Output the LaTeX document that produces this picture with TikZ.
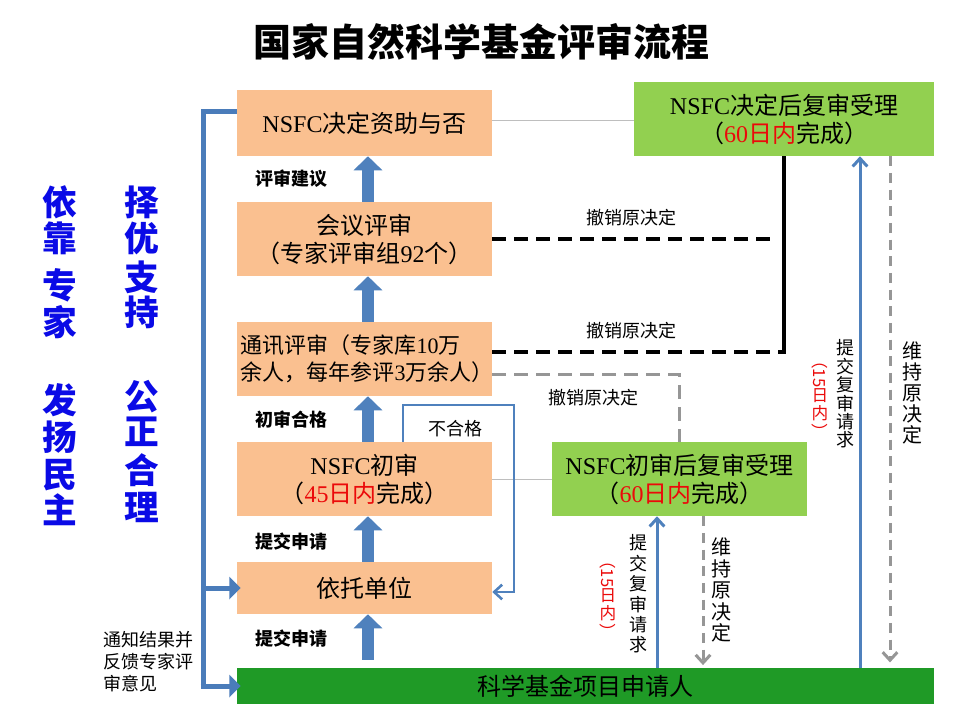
\documentclass[tikz,border=0pt]{standalone}
\usepackage{fontspec}
\setmainfont{Liberation Serif}
\newfontfamily\cjk{Noto Sans CJK SC}
\usetikzlibrary{arrows.meta}
\definecolor{peach}{RGB}{250,192,144}
\definecolor{lgreen}{RGB}{146,208,80}
\definecolor{dgreen}{RGB}{31,154,38}
\definecolor{arrblue}{RGB}{79,129,189}
\definecolor{brkblue}{RGB}{74,124,186}
\definecolor{nred}{RGB}{235,10,10}
\definecolor{bigblue}{RGB}{10,10,230}
\definecolor{lgray}{RGB}{190,190,190}
\definecolor{dgray}{RGB}{150,150,150}
\newcommand\lat[1]{{\rmfamily #1}}
\newcommand\redstack{\rotatebox[origin=c]{-90}{（15}\\日\\内\\\rotatebox[origin=c]{-90}{）}}
\begin{document}
\begin{tikzpicture}[x=0.75pt,y=-0.75pt,
  box/.style={fill=peach, minimum width=191.25pt, minimum height=55.5pt, inner sep=0pt, align=center, font=\cjk\fontsize{18pt}{21pt}\selectfont},
  gbox/.style={box, fill=lgreen},
  barbox/.style={box, fill=dgreen, minimum width=522.75pt, minimum height=27pt},
  lblb/.style={font=\cjk\bfseries\fontsize{13.5pt}{16pt}\selectfont, inner sep=0pt},
  lbl/.style={font=\cjk\fontsize{13.5pt}{16pt}\selectfont, inner sep=0pt},
  vlab/.style={font=\cjk\fontsize{13.5pt}{15.3pt}\selectfont, align=center, inner sep=0pt},
  rlab/.style={font=\cjk\fontsize{12.5pt}{13.5pt}\selectfont, text=nred, align=center, inner sep=0pt},
  bigc/.style={font=\cjk\bfseries\fontsize{26pt}{28pt}\selectfont, text=bigblue, inner sep=0pt},
  blockarr/.style={draw=arrblue, line width=9pt, -{Triangle[width=21pt,length=10.5pt]}},
  brk/.style={draw=brkblue, line width=3.75pt},
  brkarr/.style={brk, -{Triangle[width=16.5pt,length=8.5pt]}},
  thinl/.style={draw=lgray, line width=0.75pt},
  blk/.style={draw=black, line width=2.5pt},
  blkdash/.style={draw=black, line width=2.5pt, dash pattern=on 10pt off 6.5pt},
  gdash/.style={draw=dgray, line width=2.25pt, dash pattern=on 10pt off 6.5pt},
  gdarr/.style={draw=dgray, line width=2.25pt, dash pattern=on 7.5pt off 5pt, -{Straight Barb[length=6pt,width=11pt]}},
  blueup/.style={draw=arrblue, line width=2.25pt, -{Straight Barb[length=6pt,width=11pt]}},
  backl/.style={draw=arrblue, line width=1.9pt, -{Straight Barb[length=6pt,width=11pt]}}
]
\useasboundingbox[fill=white] (0,0) rectangle (960,720);

% title
\node[font=\cjk\bfseries\fontsize{28.5pt}{32pt}\selectfont, inner sep=0pt] (title) at (481,42) {国家自然科学基金评审流程};

% left columns
\foreach \c/\y [count=\i] in {依/202,靠/238,专/285,家/322,发/400,扬/437,民/475,主/510}
  \node[bigc] (la\i) at (60,\y) {\c};
\foreach \c/\y [count=\i] in {择/202,优/238,支/277,持/312,公/397,正/432,合/470,理/507}
  \node[bigc] (lb\i) at (142,\y) {\c};

% coordinates
\coordinate (lt) at (203,112);
\coordinate (lb) at (203,686);
\coordinate (bk) at (784,352);
\coordinate (bk2) at (775,239);
\coordinate (gd) at (679,374);
\coordinate (l1) at (403,405);
\coordinate (l2) at (514,405);
\coordinate (l3) at (514,592);
\coordinate (ma) at (657,0);
\coordinate (ra) at (860,0);
\coordinate (gm) at (703,0);
\coordinate (gr) at (890,0);

% boxes
\node[box, minimum height=49.5pt] (b1) at (364.5,123) {\lat{NSFC}决定资助与否};
\node[box] (b2) at (364.5,239) {会议评审\\（专家评审组\lat{92}个）};
\node[box] (b3) at (364.5,359) {};
\node[align=left, inner sep=0pt, font=\cjk\fontsize{16.5pt}{20.25pt}\selectfont] (b3t) at ([xshift=2pt]b3.center) {通讯评审（专家库\lat{10}万\\余人，每年参评\lat{3}万余人）};
\node[box] (b4) at (364.5,479) {\lat{NSFC}初审\\（\textcolor{nred}{\lat{45}日内}完成）};
\node[box, minimum height=39pt] (b5) at (364.5,588) {依托单位};
\node[barbox] (bar) at (585.5,686) {科学基金项目申请人};
\node[gbox, minimum width=225pt] (g1) at (784,119) {\lat{NSFC}决定后复审受理\\（\textcolor{nred}{\lat{60}日内}完成）};
\node[gbox] (g2) at (679.5,479) {\lat{NSFC}初审后复审受理\\（\textcolor{nred}{\lat{60}日内}完成）};

% thin gray links
\draw[thinl] ([yshift=1.5pt]b1.east) -- ([yshift=1.5pt]b1.east -| g1.west);
\draw[thinl] (b4.east) -- (g2.west);

% block arrows
\draw[blockarr] ([xshift=2.6pt]b2.north) -- ([xshift=2.6pt]b1.south);
\draw[blockarr] ([xshift=2.6pt]b3.north) -- ([xshift=2.6pt]b2.south);
\draw[blockarr] ([xshift=2.6pt]b4.north) -- ([xshift=2.6pt]b3.south);
\draw[blockarr] ([xshift=2.6pt]b5.north) -- ([xshift=2.6pt]b4.south);
\draw[blockarr] ([xshift=2.6pt,yshift=6pt]bar.north -| b5.south) -- ([xshift=2.6pt]b5.south);

% left bracket
\draw[brk, line join=miter] ([yshift=8.25pt]b1.west) -- (lt) -- (lb);
\draw[brkarr] ([xshift=-1.875pt]lb) -- ([xshift=3pt]bar.west);
\draw[brkarr] (lt |- b5.west) -- ([xshift=3pt]b5.west);

% black lines
\draw[blk] (g1.south) -- ([yshift=-1.25pt]bk);
\draw[blkdash] (b2.east) -- (bk2);
\draw[blkdash] (b3.east |- bk) -- (bk);

% gray dashed to g2
\draw[gdash] (b3.east |- gd) -- (gd) -- (g2.north -| gd);

% back loop
\draw[backl] (b4.north -| l1) -- (l1) -- (l2) -- (l3) -- (b5.east |- l3);

% vertical arrows
\draw[blueup] (bar.north -| ma) -- (g2.south -| ma);
\draw[blueup] (bar.north -| ra) -- (g1.south -| ra);
\draw[gdarr] (g2.south -| gm) -- ([yshift=2pt]bar.north -| gm);
\draw[gdarr] (g1.south -| gr) -- ([yshift=4pt]bar.north -| gr);

% labels
\node[lblb] (t1) at (291.5,179) {评审建议};
\node[lblb] (t2) at (291.5,420) {初审合格};
\node[lblb] (t3) at (291.5,542) {提交申请};
\node[lblb] (t4) at (291.5,639) {提交申请};
\node[lbl] (t5) at (455,429) {不合格};
\node[lbl] (t6) at (631,218) {撤销原决定};
\node[lbl] (t7) at (631,331) {撤销原决定};
\node[lbl] (t8) at (593,398) {撤销原决定};
\node[lbl, align=left, font=\cjk\fontsize{13.5pt}{16.5pt}\selectfont] (t9) at (148,662) {通知结果并\\反馈专家评\\审意见};

\node[vlab] (v1) at (638,594) {提\\交\\复\\审\\请\\求};
\node[rlab] (r1) at (608,596) {\redstack};
\node[vlab, font=\cjk\fontsize{15pt}{16.1pt}\selectfont] (v2) at (721,590) {维\\持\\原\\决\\定};

\node[vlab, font=\cjk\fontsize{13.5pt}{13.8pt}\selectfont] (v3) at (845,394) {提\\交\\复\\审\\请\\求};
\node[rlab] (r2) at (820,396) {\redstack};
\node[vlab, font=\cjk\fontsize{15pt}{15.6pt}\selectfont] (v4) at (912,393) {维\\持\\原\\决\\定};
\end{tikzpicture}
\end{document}
